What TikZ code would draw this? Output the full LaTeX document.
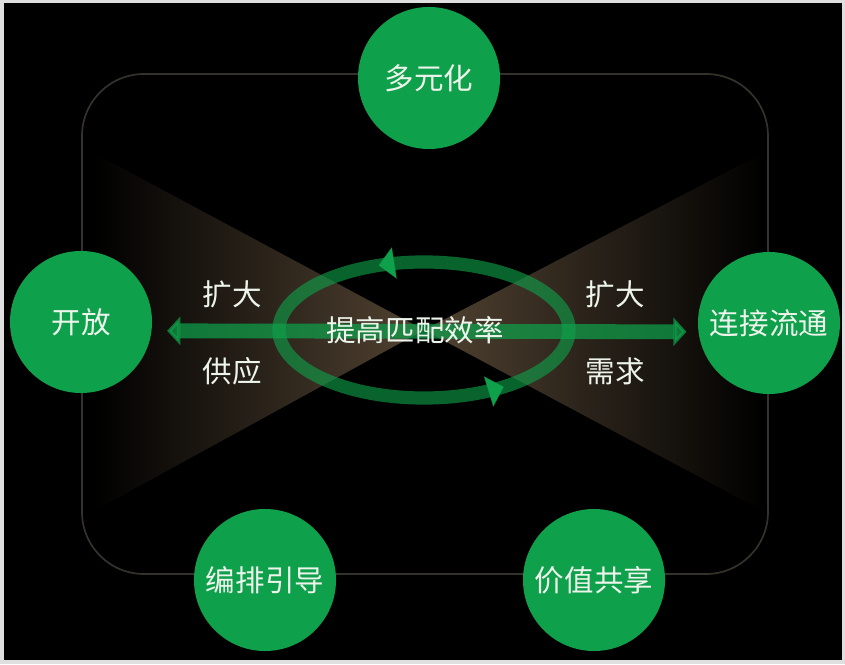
\documentclass[tikz,border=0pt]{standalone}
\usepackage{fontspec}
\newfontfamily\cjk{Noto Sans CJK SC}
\usetikzlibrary{arrows.meta, positioning, decorations.markings}
\definecolor{hubgreen}{RGB}{14,160,74}
\definecolor{rimgray}{RGB}{52,50,42}
\definecolor{fanbrown}{RGB}{82,67,50}
\definecolor{txtwhite}{RGB}{236,244,236}

\begin{document}
\begin{tikzpicture}[x=0.025cm, y=0.025cm,
  every node/.style={font=\cjk\fontsize{21pt}{25pt}\selectfont, text=txtwhite, align=center},
  hub/.style={circle, fill=hubgreen, minimum size=3.55cm, inner sep=0pt},
  lbl/.style={inner sep=1pt},
  flow/.style={{Triangle[length=0.33cm, width=0.7cm]}-{Triangle[length=0.33cm, width=0.7cm]},
               line width=0.37cm, draw=hubgreen, opacity=0.72},
  ring/.style={draw=hubgreen, line width=0.33cm, draw opacity=0.62, postaction={decorate},
               decoration={markings,
                 mark=at position 0.316 with {\arrow[hubgreen, line width=0.5pt]{Triangle[length=0.4cm, width=0.8cm]}},
                 mark=at position 0.867 with {\arrow[hubgreen, line width=0.5pt]{Triangle[length=0.4cm, width=0.8cm]}}}}
]
  \useasboundingbox (0,0) rectangle (845,664);
  \fill[gray!25] (0,0) rectangle (845,664);
  \fill[black] (4,4) rectangle (842,661);

  % frame and the two fans
  \draw[rimgray, line width=1.2pt, rounded corners=1.55cm] (82,90) rectangle (768,590);
  \coordinate (mid) at (424,334);
  \fill[left color=black, right color=fanbrown] (92,512) -- (92,152) -- (mid) -- cycle;
  \fill[left color=fanbrown, right color=black] (765,512) -- (765,152) -- (mid) -- cycle;

  \draw[ring] (mid) ellipse [x radius=3.625cm, y radius=1.7cm];

  \node[hub] (multi) at (429,586) {多元化};
  \node[hub] (open) at (81,342) {开放};
  \node[hub] (link) at (769,341) {连接流通};
  \node[hub] (guide) at (265,84) {编排引导};
  \node[hub] (share) at (594,84) {价值共享};

  \draw[flow, shorten <=0.37cm, shorten >=0.28cm]
    ([yshift=-0.22cm]open.east) -- ([yshift=-0.22cm]link.west);

  \node[lbl] (core) at (415,334) {提高匹配效率};
  \node[lbl] (growL) at (232,370) {扩大};
  \node[lbl] (supply) at (232,293) {供应};
  \node[lbl] (growR) at (615,370) {扩大};
  \node[lbl] (demand) at (615,293) {需求};
\end{tikzpicture}
\end{document}
